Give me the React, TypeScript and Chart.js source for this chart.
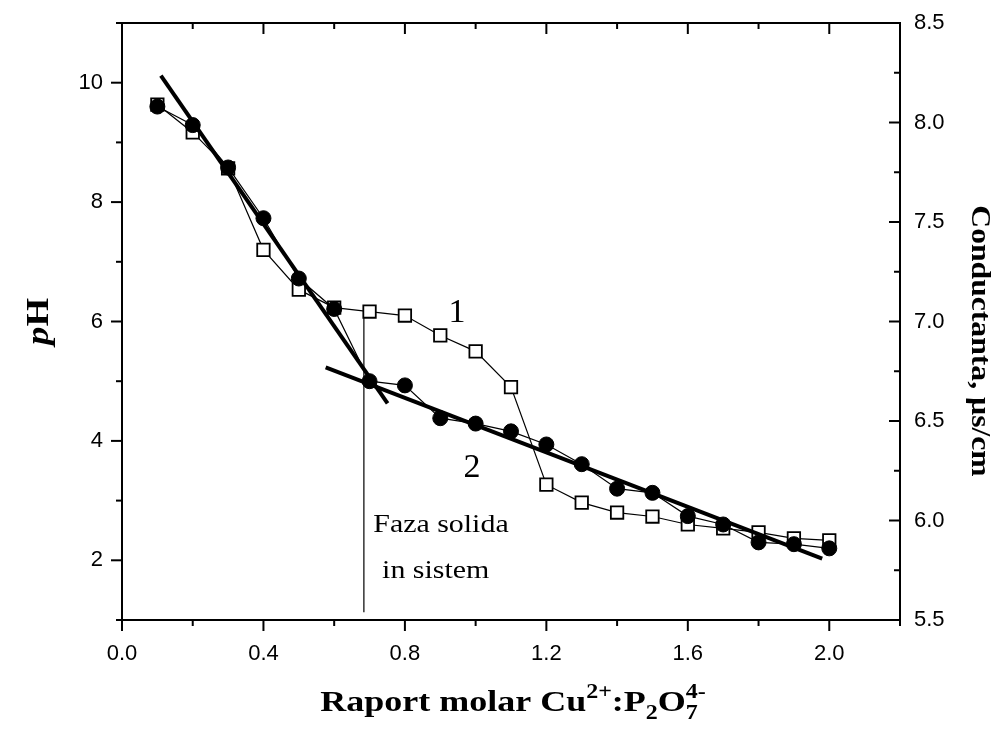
import React, { useEffect, useRef } from "react";
import { Chart, registerables } from "chart.js";

Chart.register(...registerables);

// ---- data ----
const ratioValues = [0.1, 0.2, 0.3, 0.4, 0.5, 0.6, 0.7, 0.8, 0.9, 1.0, 1.1, 1.2, 1.3, 1.4, 1.5, 1.6, 1.7, 1.8, 1.9, 2.0];
// curve 2 (filled circles) - pH, left axis
const phValues = [9.6, 9.29, 8.58, 7.73, 6.72, 6.21, 5.0, 4.93, 4.38, 4.29, 4.16, 3.94, 3.61, 3.2, 3.13, 2.74, 2.6, 2.3, 2.27, 2.2];
// curve 1 (open squares) - conductance, right axis
const conductanceValues = [8.09, 7.95, 7.77, 7.36, 7.16, 7.07, 7.05, 7.03, 6.93, 6.85, 6.67, 6.18, 6.09, 6.04, 6.02, 5.98, 5.96, 5.94, 5.91, 5.9];
// fitted straight lines (pH units)
const fitSteepX = [0.11, 0.751];
const fitSteepY = [10.12, 4.63];
const fitShallowX = [0.576, 1.98];
const fitShallowY = [5.23, 2.03];
// vertical marker "Faza solida in sistem"
const markerX = [0.684, 0.684];
const markerY = [6.17, 1.13];

// ---- ticks ----
const xTickValues = [0, 0.4, 0.8, 1.2, 1.6, 2.0];
const xTickLabels = ["0.0", "0.4", "0.8", "1.2", "1.6", "2.0"];
const xMinorValues = [0.2, 0.6, 1.0, 1.4, 1.8, 2.2];
const phTickValues = [2, 4, 6, 8, 10];
const phTickLabels = ["2", "4", "6", "8", "10"];
const phMinorValues = [1, 3, 5, 7, 9, 11];
const condTickValues = [5.5, 6.0, 6.5, 7.0, 7.5, 8.0, 8.5];
const condTickLabels = ["5.5", "6.0", "6.5", "7.0", "7.5", "8.0", "8.5"];
const condMinorValues = [5.75, 6.25, 6.75, 7.25, 7.75, 8.25];

// ---- annotations (data coords on x / pH axes) ----
const annotationTexts = ["1", "2", "Faza solida", "in sistem"];
const annotationX = [0.947, 0.99, 0.902, 0.887];
const annotationY = [6.0, 3.4, 2.47, 1.7];

const SERIF = '"Liberation Serif", "Times New Roman", serif';
const SANS = '"Liberation Sans", Arial, sans-serif';

function txt(ctx: CanvasRenderingContext2D, s: string, x: number, y: number, font: string, align: CanvasTextAlign, base: CanvasTextBaseline, sx = 1) {
  ctx.save();
  ctx.translate(x, y);
  ctx.scale(sx, 1);
  ctx.font = font;
  ctx.textAlign = align;
  ctx.textBaseline = base;
  ctx.fillStyle = "#000";
  ctx.fillText(s, 0, 0);
  ctx.restore();
}

const framePlugin = {
  id: "frame",
  afterDatasetsDraw(chart: any) {
    const { ctx, chartArea: a, scales } = chart;
    const xs = scales.x, ys = scales.y, y2 = scales.y2;
    ctx.save();
    ctx.strokeStyle = "#000";
    ctx.lineWidth = 2;
    ctx.lineCap = "butt";
    ctx.strokeRect(a.left, a.top, a.right - a.left, a.bottom - a.top);
    const seg = (x1: number, y1: number, x2: number, y2_: number) => {
      ctx.beginPath();
      ctx.moveTo(x1, y1);
      ctx.lineTo(x2, y2_);
      ctx.stroke();
    };
    const MAJ = 11, MIN = 6;
    xTickValues.forEach((v) => {
      const p = xs.getPixelForValue(v);
      seg(p, a.bottom, p, a.bottom + MAJ);
      seg(p, a.top, p, a.top + MAJ);
    });
    xMinorValues.forEach((v) => {
      const p = xs.getPixelForValue(v);
      seg(p, a.bottom, p, a.bottom + MIN);
      seg(p, a.top, p, a.top + MIN);
    });
    phTickValues.forEach((v) => {
      const p = ys.getPixelForValue(v);
      seg(a.left - MAJ, p, a.left, p);
    });
    phMinorValues.forEach((v) => {
      const p = ys.getPixelForValue(v);
      seg(a.left - MIN, p, a.left, p);
    });
    condTickValues.forEach((v) => {
      const p = y2.getPixelForValue(v);
      seg(a.right - MAJ, p, a.right, p);
    });
    condMinorValues.forEach((v) => {
      const p = y2.getPixelForValue(v);
      seg(a.right - MIN, p, a.right, p);
    });

    const tickFont = `22px ${SANS}`;
    xTickValues.forEach((v, i) => txt(ctx, xTickLabels[i], xs.getPixelForValue(v), a.bottom + 23, tickFont, "center", "top"));
    phTickValues.forEach((v, i) => txt(ctx, phTickLabels[i], a.left - 19, ys.getPixelForValue(v), tickFont, "right", "middle"));
    condTickValues.forEach((v, i) => txt(ctx, condTickLabels[i], a.right + 14, y2.getPixelForValue(v), tickFont, "left", "middle"));

    // annotations
    annotationTexts.forEach((s, i) => {
      const big = i < 2;
      txt(ctx, s, xs.getPixelForValue(annotationX[i]), ys.getPixelForValue(annotationY[i]), big ? `34px ${SERIF}` : `26px ${SERIF}`, "center", "alphabetic", big ? 1 : 1.15);
    });

    // x title with super/subscripts
    const F = 30, f = 20, sx = 1.2;
    const nFont = `bold ${F}px ${SERIF}`;
    const sFont = `bold ${f}px ${SERIF}`;
    const parts: { t: string; k: string; t2?: string }[] = [
      { t: "Raport molar Cu", k: "n" },
      { t: "2+", k: "sup" },
      { t: ":P", k: "n" },
      { t: "2", k: "sub" },
      { t: "O", k: "n" },
      { t: "7", k: "stack", t2: "4-" },
    ];
    const w = (s: string, font: string) => {
      ctx.font = font;
      return ctx.measureText(s).width;
    };
    const widths = parts.map((p) => (p.k === "n" ? w(p.t, nFont) : p.k === "stack" ? Math.max(w(p.t, sFont), w(p.t2 as string, sFont)) : w(p.t, sFont)));
    const total = widths.reduce((s, v) => s + v, 0);
    const base = a.bottom + 91;
    ctx.save();
    ctx.translate((a.left + a.right) / 2 + 2, base);
    ctx.scale(sx, 1);
    let cx = -total / 2;
    parts.forEach((p, i) => {
      if (p.k === "n") txt(ctx, p.t, cx, 0, nFont, "left", "alphabetic");
      else if (p.k === "sup") txt(ctx, p.t, cx, -F * 0.42, sFont, "left", "alphabetic");
      else if (p.k === "sub") txt(ctx, p.t, cx, F * 0.28, sFont, "left", "alphabetic");
      else {
        txt(ctx, p.t, cx, F * 0.28, sFont, "left", "alphabetic");
        txt(ctx, p.t2 as string, cx, -F * 0.42, sFont, "left", "alphabetic");
      }
      cx += widths[i];
    });
    ctx.restore();

    // left title "pH"
    ctx.save();
    ctx.translate(40, (a.top + a.bottom) / 2);
    ctx.rotate(-Math.PI / 2);
    const pF = `italic bold 32px ${SERIF}`;
    const hF = `bold 32px ${SERIF}`;
    const pw = w("p", pF), hw = w("H", hF);
    ctx.scale(1.15, 1);
    txt(ctx, "p", -(pw + hw) / 2, 0, pF, "left", "middle");
    txt(ctx, "H", -(pw + hw) / 2 + pw, 0, hF, "left", "middle");
    ctx.restore();

    // right title
    ctx.save();
    ctx.translate(979, 341);
    ctx.rotate(Math.PI / 2);
    ctx.scale(1.13, 1);
    txt(ctx, "Conductanta, \u00b5s/cm", 0, 0, `bold 28px ${SERIF}`, "center", "middle");
    ctx.restore();

    ctx.restore();
  },
};

export default function App() {
  const ref = useRef<HTMLCanvasElement | null>(null);
  useEffect(() => {
    if (!ref.current) return;
    const pts = (xa: number[], ya: number[]) => xa.map((x, i) => ({ x, y: ya[i] }));
    const chart = new Chart(ref.current, {
      type: "scatter",
      data: {
        datasets: [
          {
            label: "fit steep",
            data: pts(fitSteepX, fitSteepY),
            showLine: true,
            borderColor: "#000",
            borderWidth: 4,
            pointRadius: 0,
            yAxisID: "y",
            order: 0,
          },
          {
            label: "fit shallow",
            data: pts(fitShallowX, fitShallowY),
            showLine: true,
            borderColor: "#000",
            borderWidth: 4,
            pointRadius: 0,
            yAxisID: "y",
            order: 0,
          },
          {
            label: "pH (2)",
            data: pts(ratioValues, phValues),
            showLine: true,
            borderColor: "#000",
            borderWidth: 1.2,
            pointStyle: "circle",
            pointRadius: 7.5,
            pointBackgroundColor: "#000",
            pointBorderColor: "#000",
            pointBorderWidth: 1,
            yAxisID: "y",
            order: 1,
          },
          {
            label: "Conductanta (1)",
            data: pts(ratioValues, conductanceValues),
            showLine: true,
            borderColor: "#000",
            borderWidth: 1.2,
            pointStyle: "rect",
            pointRadius: 8.8,
            pointBackgroundColor: "#fff",
            pointBorderColor: "#000",
            pointBorderWidth: 1.8,
            yAxisID: "y2",
            order: 2,
          },
          {
            label: "marker",
            data: pts(markerX, markerY),
            showLine: true,
            borderColor: "#000",
            borderWidth: 1.2,
            pointRadius: 0,
            yAxisID: "y",
            order: 3,
          },
        ],
      },
      options: {
        responsive: false,
        animation: false,
        events: [],
        layout: { autoPadding: false, padding: { left: 122, right: 93, top: 23, bottom: 111 } },
        plugins: { legend: { display: false }, tooltip: { enabled: false }, title: { display: false } },
        scales: {
          x: { type: "linear", min: 0, max: 2.2, display: false },
          y: { type: "linear", min: 1, max: 11, display: false, position: "left" },
          y2: { type: "linear", min: 5.5, max: 8.5, display: false, position: "right" },
        },
      },
      plugins: [framePlugin],
    });
    return () => chart.destroy();
  }, []);
  return (
    <div style={{ position: "fixed", left: 0, top: 0, width: 993, height: 731, background: "#fff" }}>
      <canvas ref={ref} width={993} height={731} style={{ display: "block" }} />
    </div>
  );
}
